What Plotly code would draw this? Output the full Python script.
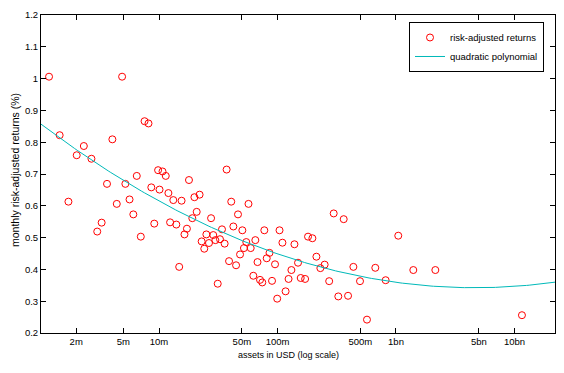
import numpy as np
import plotly.graph_objects as go

# assets in USD (millions) and monthly risk-adjusted returns (%)
assets_musd = [
    1.18, 4.88, 1.45, 2.02, 2.32, 2.69, 4.04, 3.64, 5.20, 6.49,
    7.55, 8.15, 8.61, 9.82, 10.1, 10.7, 11.4, 12.0, 17.9, 19.9,
    22.0, 37.2, 1.72, 5.64, 13.2, 15.5, 40.7, 3.01, 3.28, 4.40,
    6.07, 7.02, 9.12, 12.4, 14.0, 14.8, 16.4, 17.2, 19.1, 20.8,
    22.9, 24.1, 25.1, 26.4, 27.5, 28.7, 29.9, 31.3, 32.7, 34.0,
    35.8, 39.0, 42.4, 44.7, 46.4, 48.3, 50.5, 52.1, 54.5, 56.9,
    59.4, 62.5, 65.0, 67.8, 71.2, 74.4, 77.4, 81.1, 85.6, 89.9,
    95.3, 99.4, 104, 110, 117, 124, 131, 139, 149, 157,
    171, 181, 197, 213, 230, 250, 273, 298, 326, 362,
    394, 437, 497, 569, 669, 818, 1045, 1400, 2148, 11560,
]
returns_pct = [
    1.006, 1.006, 0.822, 0.759, 0.788, 0.748, 0.809, 0.669, 0.669, 0.694,
    0.866, 0.859, 0.658, 0.712, 0.651, 0.708, 0.694, 0.640, 0.681, 0.627,
    0.635, 0.714, 0.613, 0.620, 0.618, 0.616, 0.613, 0.519, 0.547, 0.606,
    0.573, 0.503, 0.544, 0.548, 0.541, 0.408, 0.510, 0.528, 0.561, 0.581,
    0.488, 0.465, 0.510, 0.483, 0.561, 0.508, 0.492, 0.355, 0.495, 0.526,
    0.481, 0.426, 0.535, 0.413, 0.573, 0.447, 0.523, 0.467, 0.486, 0.606,
    0.467, 0.380, 0.492, 0.423, 0.367, 0.359, 0.523, 0.435, 0.452, 0.364,
    0.416, 0.308, 0.523, 0.484, 0.331, 0.370, 0.398, 0.479, 0.421, 0.373,
    0.370, 0.503, 0.498, 0.440, 0.404, 0.415, 0.363, 0.576, 0.315, 0.558,
    0.317, 0.408, 0.363, 0.242, 0.405, 0.366, 0.506, 0.398, 0.398, 0.256,
]

x_tick_vals = [2e6, 5e6, 1e7, 5e7, 1e8, 5e8, 1e9, 5e9, 1e10]
x_tick_text = ["2m", "5m", "10m", "50m", "100m", "500m", "1bn", "5bn", "10bn"]
y_tick_vals = [0.2, 0.3, 0.4, 0.5, 0.6, 0.7, 0.8, 0.9, 1.0, 1.1, 1.2]
y_tick_text = ["0.2", "0.3", "0.4", "0.5", "0.6", "0.7", "0.8", "0.9", "1", "1.1", "1.2"]
x_title = "assets in USD (log scale)"
y_title = "monthly risk-adjusted returns (%)"

assets_usd = np.array(assets_musd) * 1e6
logx = np.log10(assets_usd)
coef = np.polyfit(logx, np.array(returns_pct), 2)
x_lo, x_hi = 6.004, 10.342
fit_lx = np.linspace(x_lo, x_hi, 200)
fit_y = np.polyval(coef, fit_lx)

FONT = "Liberation Sans, Arial, sans-serif"
TICK_SIZE = 9.5

fig = go.Figure()
fig.add_trace(go.Scatter(
    x=assets_usd, y=returns_pct, mode="markers", name="risk-adjusted returns",
    marker=dict(symbol="circle-open", size=7, color="red", line=dict(width=1, color="red")),
))
fig.add_trace(go.Scatter(
    x=10 ** fit_lx, y=fit_y, mode="lines", name="quadratic polynomial",
    line=dict(color="rgb(0,185,185)", width=1),
))

axis_common = dict(
    showline=True, linecolor="black", linewidth=1, mirror="ticks",
    ticks="inside", ticklen=5, tickcolor="black", showgrid=False, zeroline=False,
    tickfont=dict(size=TICK_SIZE, color="black", family=FONT), automargin=False,
)
fig.update_xaxes(type="log", range=[x_lo, x_hi], tickvals=x_tick_vals,
                 ticktext=x_tick_text, **axis_common)
fig.update_yaxes(range=[0.2, 1.2], tickvals=y_tick_vals, ticktext=y_tick_text,
                 **axis_common)

fig.add_annotation(text=x_title, xref="paper", yref="paper", x=0.481, y=-0.069,
                   xanchor="center", yanchor="middle", showarrow=False,
                   font=dict(size=9, color="black", family=FONT))
fig.add_annotation(text=y_title, xref="paper", yref="paper", x=-0.0506, y=0.5126,
                   xanchor="center", yanchor="middle", showarrow=False, textangle=-90,
                   font=dict(size=10.5, color="black", family=FONT))

# page body has an 8px default margin; size the figure so the plot area lands
# at 41..555 x 15..333 in the 564x373 window
fig.update_layout(
    width=556, height=365,
    margin=dict(l=33, r=9, t=7, b=40),
    paper_bgcolor="white", plot_bgcolor="white",
    font=dict(family=FONT, size=10, color="black"),
    legend=dict(
        x=0.9786, y=0.978, xanchor="right", yanchor="top",
        bordercolor="black", borderwidth=1, bgcolor="white",
        font=dict(size=9.5, color="black", family=FONT), tracegroupgap=0,
    ),
    showlegend=True,
)
fig.write_html("out.html")
